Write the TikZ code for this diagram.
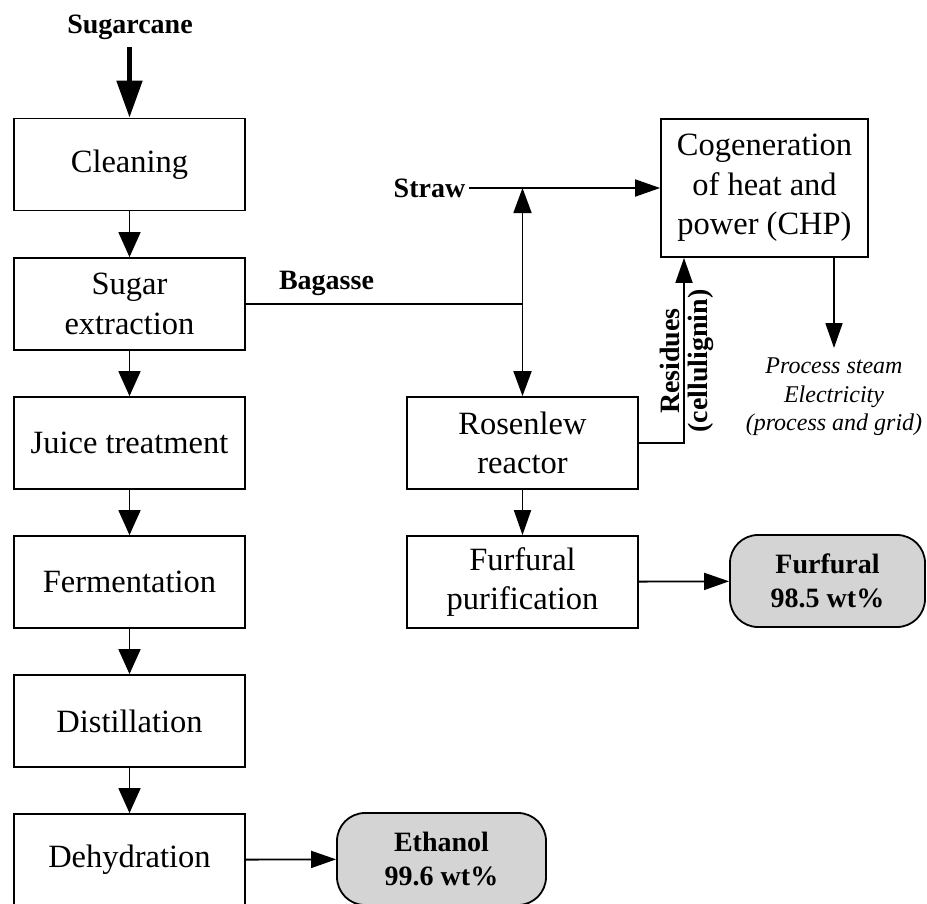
\documentclass[tikz,border=0pt]{standalone}
\usepackage{fontspec}
\setmainfont{Liberation Serif}
\usetikzlibrary{arrows.meta}
\definecolor{prodgray}{HTML}{D4D4D4}
\tikzset{
  procbox/.style={draw, line width=1.8pt, minimum width=231pt, minimum height=92pt, inner sep=0pt, align=center,
    font=\fontsize{32.5}{39.5}\selectfont},
  prodbox/.style={draw, line width=1.8pt, fill=prodgray, rounded corners=28pt, minimum height=92pt, inner sep=0pt, align=center,
    font=\fontsize{28}{34}\selectfont\bfseries},
  lbl/.style={font=\fontsize{28}{34}\selectfont\bfseries, inner sep=2pt},
  flow/.style={line width=1.8pt, -{Triangle[length=25pt,width=17pt]}},
  mainflow/.style={line width=1.8pt, -{Triangle[length=25pt,width=22pt]}},
  line/.style={line width=1.8pt},
}
\begin{document}
\begin{tikzpicture}[x=1pt,y=-1pt]
\useasboundingbox (0,0) rectangle (927,903);
% left column
\node[procbox] (clean) at (129.5,164.5) {Cleaning};
\node[procbox] (sugar) at (129.5,304) {Sugar\\extraction};
\node[procbox] (juice) at (129.5,443) {Juice treatment};
\node[procbox] (ferm) at (129.5,582) {Fermentation};
\node[procbox] (dist) at (129.5,721) {Distillation};
\node[procbox] (dehy) at (129.5,860) {Dehydration};
% right column
\node[procbox] (rosen) at (522.5,443) {Rosenlew\\reactor};
\node[procbox] (fpur) at (522.5,582) {Furfural\\purification};
\node[procbox, minimum width=207pt, minimum height=138pt] (chp) at (764.5,188) {Cogeneration\\of heat and\\power (CHP)};
% products
\node[prodbox, minimum width=209pt] (eth) at (441.5,859) {Ethanol\\99.6 wt\%};
\node[prodbox, minimum width=195pt] (fur) at (827.5,581) {Furfural\\98.5 wt\%};
% labels
\node[lbl] (cane) at (130,27) {Sugarcane};
\node[lbl] (bag) at (326.5,283) {Bagasse};
\node[lbl, inner sep=4pt] (straw) at (429.5,188) {Straw};
\node[lbl, rotate=90] (resid) at (670,361) {Residues};
\node[lbl, rotate=90] (cell) at (701,361) {(cellulignin)};
\node[font=\fontsize{24}{28.5}\selectfont\itshape, align=center] (steam) at (834,397) {Process steam\\Electricity\\(process and grid)};
% coordinates
\coordinate (jbag) at (522.5,304);
\coordinate (jtop) at (522.5,188);
\coordinate (rescorner) at (684,443);
\coordinate (outx) at (834,0);
\coordinate (outend) at (834,348);
\coordinate (canetop) at (129.5,47);
% connectors
\draw[line width=5pt, -{Triangle[length=37pt,width=25pt]}] (canetop) -- (clean.north);
\draw[mainflow] (clean) -- (sugar);
\draw[mainflow] (sugar) -- (juice);
\draw[mainflow] (juice) -- (ferm);
\draw[mainflow] (ferm) -- (dist);
\draw[mainflow] (dist) -- (dehy);
\draw[flow] (dehy) -- (eth);
\draw[line] (sugar.east) -- (jbag);
\draw[flow] (straw.east) -- (chp.west);
\draw[line width=1.8pt, {Triangle[length=25pt,width=18pt]}-{Triangle[length=25pt,width=18pt]}] (jtop) -- (rosen.north);
\draw[flow] (rosen) -- (fpur);
\draw[flow] (fpur) -- (fur);
\draw[flow] (rosen.east) -- (rescorner) -- (rescorner |- chp.south);
\draw[flow] (chp.south -| outx) -- (outend);
\end{tikzpicture}
\end{document}
